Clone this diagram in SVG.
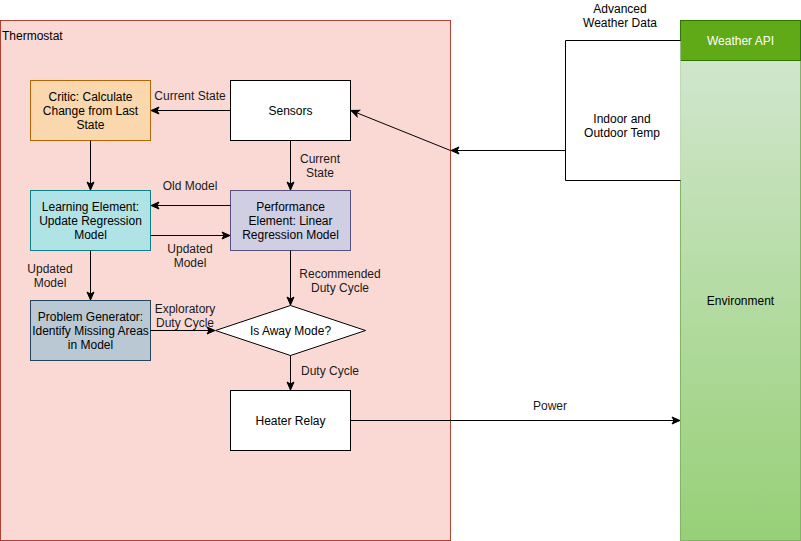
<svg xmlns="http://www.w3.org/2000/svg" width="801" height="541" viewBox="0 0 801 541">
<defs>
<linearGradient id="envGrad" x1="0" y1="0" x2="0" y2="1">
<stop offset="0" stop-color="#d5e8d4"/>
<stop offset="1" stop-color="#97d077"/>
</linearGradient>
<marker id="arr" markerUnits="userSpaceOnUse" markerWidth="10" markerHeight="10" viewBox="0 0 10 10" refX="9" refY="5" orient="auto">
<path d="M1,1.5 L9,5 L1,8.5 L3,5 Z" fill="#000" stroke="#000" stroke-width="1"/>
</marker>
<style>
text{font-family:"Liberation Sans",Arial,sans-serif;font-size:12px;fill:#000;text-anchor:middle}
.lbl{fill:#1a1a1a}
.edge{fill:none;stroke:#000;stroke-width:1;marker-end:url(#arr)}
.box{stroke-width:1}
</style>
</defs>
<rect width="801" height="541" fill="#fff"/>
<g id="thermostat">
<rect x="0.5" y="20.5" width="450" height="520" fill="#fad9d5" stroke="#ae4132"/>
<text x="2" y="40" style="text-anchor:start">Thermostat</text>
</g>
<g id="weather-api">
<rect x="680.5" y="20.5" width="120" height="520" fill="url(#envGrad)" stroke="#82b366"/>
<rect x="680.5" y="20.5" width="120" height="40" fill="#60a917" stroke="#2d7600"/>
<text x="740.5" y="45" style="fill:#fff">Weather API</text>
<text x="740.5" y="305">Environment</text>
</g>
<g id="indoor-outdoor">
<path d="M680.5,40.5 H565.5 V180.5 H680.5" fill="#fff" stroke="#000"/>
<text x="622" y="123">Indoor and</text>
<text x="622" y="137">Outdoor Temp</text>
<text x="620" y="13">Advanced</text>
<text x="620" y="27">Weather Data</text>
</g>
<g id="critic">
<rect x="30.5" y="80.5" width="120" height="60" fill="#fad7ac" stroke="#b46504"/>
<text x="90.5" y="101">Critic: Calculate</text>
<text x="90.5" y="115">Change from Last</text>
<text x="90.5" y="129">State</text>
</g>
<g id="sensors">
<rect x="230.5" y="80.5" width="120" height="60" fill="#fff" stroke="#000"/>
<text x="290.5" y="115">Sensors</text>
</g>
<g id="learning">
<rect x="30.5" y="190.5" width="120" height="60" fill="#b0e3e6" stroke="#0e8088"/>
<text x="90.5" y="211">Learning Element:</text>
<text x="90.5" y="225">Update Regression</text>
<text x="90.5" y="239">Model</text>
</g>
<g id="performance">
<rect x="230.5" y="190.5" width="120" height="60" fill="#d0cee2" stroke="#56517e"/>
<text x="290.5" y="211">Performance</text>
<text x="290.5" y="225">Element: Linear</text>
<text x="290.5" y="239">Regression Model</text>
</g>
<g id="problem-generator">
<rect x="30.5" y="300.5" width="120" height="60" fill="#bac8d3" stroke="#23445d"/>
<text x="90.5" y="321">Problem Generator:</text>
<text x="90.5" y="335">Identify Missing Areas</text>
<text x="90.5" y="349">in Model</text>
</g>
<g id="away-mode">
<path d="M215.5,330.5 L290.5,305.5 L365.5,330.5 L290.5,355.5 Z" fill="#fff" stroke="#000"/>
<text x="290.5" y="335">Is Away Mode?</text>
</g>
<g id="heater-relay">
<rect x="230.5" y="390.5" width="120" height="60" fill="#fff" stroke="#000"/>
<text x="290.5" y="425">Heater Relay</text>
</g>
<g id="connectors">
<path class="edge" d="M230.5,110.5 H151"/>
<text class="lbl" x="190" y="100">Current State</text>
<path class="edge" d="M290.5,140.5 V190"/>
<text class="lbl" x="320" y="163">Current</text>
<text class="lbl" x="320" y="177">State</text>
<path class="edge" d="M90.5,140.5 V190"/>
<path class="edge" d="M230.5,205.5 H151"/>
<text class="lbl" x="190" y="190">Old Model</text>
<path class="edge" d="M150.5,235.5 H230"/>
<text class="lbl" x="190" y="253">Updated</text>
<text class="lbl" x="190" y="267">Model</text>
<path class="edge" d="M90.5,250.5 V300"/>
<text class="lbl" x="50" y="273">Updated</text>
<text class="lbl" x="50" y="287">Model</text>
<path class="edge" d="M290.5,250.5 V305"/>
<text class="lbl" x="340" y="278">Recommended</text>
<text class="lbl" x="340" y="292">Duty Cycle</text>
<path class="edge" d="M150.5,330.5 H215"/>
<text class="lbl" x="185" y="313">Exploratory</text>
<text class="lbl" x="185" y="327">Duty Cycle</text>
<path class="edge" d="M290.5,355.5 V390"/>
<text class="lbl" x="330" y="375">Duty Cycle</text>
<path class="edge" d="M565.5,150.5 H451"/>
<path class="edge" d="M450.5,150.5 L351,110.5"/>
<path class="edge" d="M350.5,420.5 H680"/>
<text class="lbl" x="550" y="410">Power</text>
</g>
</svg>
